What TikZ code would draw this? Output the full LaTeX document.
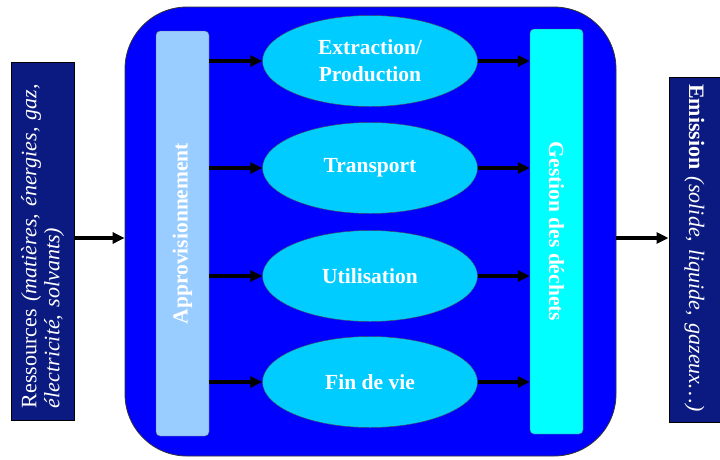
\documentclass[tikz,border=0pt]{standalone}
\usepackage{fontspec}
\setmainfont{Liberation Serif}
\usetikzlibrary{arrows.meta,shapes.geometric}
\definecolor{FBlue}{HTML}{0000FF}
\definecolor{FNavy}{HTML}{0B1A80}
\definecolor{FSky}{HTML}{99CCFF}
\definecolor{FCyan}{HTML}{00FFFF}
\definecolor{FEll}{HTML}{00CCFF}

\begin{document}
\begin{tikzpicture}[x=1pt,y=-1pt,
  side/.style={draw=black,line width=1pt,fill=FNavy,text=white,inner sep=0pt,
    align=left,font=\fontsize{22}{23}\selectfont},
  bar/.style={draw=black!60,rounded corners=4pt,minimum width=405pt,
    minimum height=53pt,inner sep=0pt,text=white,font=\fontsize{21.5}{24}\selectfont\bfseries},
  phase/.style={ellipse,draw=black!70,fill=FEll,minimum width=215pt,minimum height=91pt,
    inner sep=0pt,align=center,text=white,font=\fontsize{21.5}{27}\selectfont\bfseries},
  a/.style={-{Triangle[length=12pt,width=11pt]},line width=3.5pt}
]
  \useasboundingbox (0,0) rectangle (720,459);
  \node[draw=black!80,line width=0.8pt,fill=FBlue,rounded corners=62pt,minimum width=491pt,
    minimum height=449pt,inner sep=0pt] (frame) at (370.5,231.5) {};
  \node[side,rotate=90,minimum width=358pt,minimum height=63pt,text width=334pt] (res)
    at (42.5,241) {Ressources {\itshape (matières, énergies, gaz,}\\{\itshape électricité, solvants)}};
  \node[side,rotate=-90,minimum width=345pt,minimum height=51pt,text width=331pt] (emis)
    at (694.5,249.5) {{\bfseries Emission} {\itshape (solide, liquide, gazeux…)}};
  \node[bar,fill=FSky,rotate=90] (appro) at (182.5,233.5) {Approvisionnement};
  \node[bar,fill=FCyan,rotate=-90] (gest) at (556.5,231.5) {Gestion des déchets};
  \node[phase] (extr) at (370,61) {Extraction/\\Production};
  \node[phase] (transp) at (370,168) {Transport};
  \node[phase] (util) at (370,276) {Utilisation};
  \node[phase] (fin) at (370,382) {Fin de vie};
  \foreach \p in {extr,transp,util,fin} {
    \draw[a] (appro.south |- \p) -- (\p);
    \draw[a] (\p) -- (gest.south |- \p);
  }
  \coordinate (mid) at (0,238);
  \draw[a] (res.south |- mid) -- (frame.west |- mid);
  \draw[a] (frame.east |- mid) -- (emis.south |- mid);
\end{tikzpicture}
\end{document}
